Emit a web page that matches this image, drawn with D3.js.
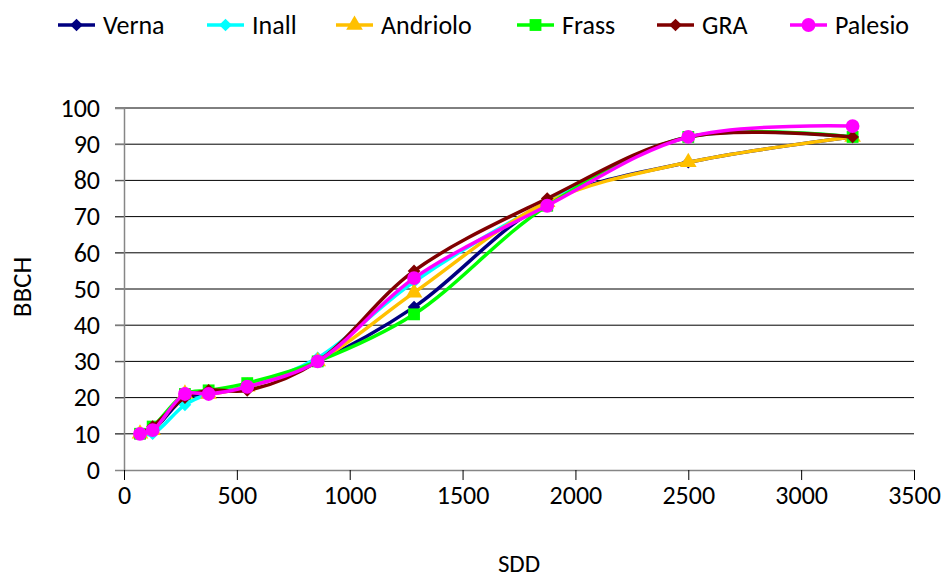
<!DOCTYPE html>
<html><head><meta charset="utf-8">
<script src="https://cdn.jsdelivr.net/npm/d3@7"></script>
<style>body{margin:0;background:#fff}svg{display:block}text{font-family:Carlito,Lato,"Open Sans",sans-serif}</style>
</head><body><svg id="c" width="947" height="580"></svg>
<script>
const sdd = [71, 127, 270, 375, 546, 858, 1285, 1875, 2500, 3228];
const verna    = [10, 11, 20, 21, 23, 30, 45, 74, 85, 92];
const inall    = [10, 10, 18, 21, 23, 31, 52, 74, 92, 92];
const andriolo = [10, 11, 21, 21, 23, 30, 49, 74, 85, 92];
const frass    = [10, 12, 21, 22, 24, 30, 43, 73, 92, 92];
const gra      = [10, 12, 20, 22, 22, 30, 55, 75, 92, 92];
const palesio  = [10, 11, 21, 21, 23, 30, 53, 73, 92, 95];
const seriesNames = ["Verna", "Inall", "Andriolo", "Frass", "GRA", "Palesio"];
const seriesValues = [verna, inall, andriolo, frass, gra, palesio];
const xTicks = [0, 500, 1000, 1500, 2000, 2500, 3000, 3500];
const yTicks = [0, 10, 20, 30, 40, 50, 60, 70, 80, 90, 100];

const colors = ["#000080", "#00FFFF", "#FFC000", "#00FF00", "#800000", "#FF00FF"];
const shapes = ["diamond", "diamond", "triangle", "square", "diamond", "circle"];

const svg = d3.select("#c");
const M = {l:124, r:33, t:108, b:110};
const W = 947 - M.l - M.r, H = 580 - M.t - M.b;
const x = d3.scaleLinear().domain([0, 3500]).range([M.l, M.l + W]);
const y = d3.scaleLinear().domain([0, 100]).range([M.t + H, M.t]);

// gridlines
svg.append("g").selectAll("line").data(yTicks.filter(d => d > 0)).join("line")
  .attr("x1", M.l - 9).attr("x2", M.l + W)
  .attr("y1", d => y(d)).attr("y2", d => y(d))
  .attr("stroke", "#000").attr("stroke-width", 1);

// y axis
const ya = svg.append("g").attr("transform", `translate(${M.l},0)`)
  .call(d3.axisLeft(y).tickValues(yTicks).tickSize(9).tickPadding(15));
ya.select(".domain").attr("stroke", "#868686").attr("stroke-width", 1.5);
ya.selectAll(".tick line").attr("stroke", "#868686");
ya.selectAll(".tick text").attr("font-size", 26).attr("fill", "#000");

// x axis
const xa = svg.append("g").attr("transform", `translate(0,${M.t + H})`)
  .call(d3.axisBottom(x).tickValues(xTicks).tickFormat(d3.format("d")).tickSize(10).tickSizeOuter(0).tickPadding(6));
xa.select(".domain").attr("stroke", "#868686").attr("stroke-width", 1.5);
xa.selectAll(".tick line").attr("stroke", "#000");
xa.selectAll(".tick text").attr("font-size", 26).attr("fill", "#000");

svg.append("text").attr("transform", `translate(31,${M.t + H/2 - 2}) rotate(-90)`)
  .attr("text-anchor", "middle").attr("font-size", 27).text("BBCH");
svg.append("text").attr("x", 519).attr("y", 572)
  .attr("text-anchor", "middle").attr("font-size", 25).text("SDD");

function marker(shape) {
  if (shape === "diamond") return d3.symbol(d3.symbolSquare, 80)();
  if (shape === "square") return d3.symbol(d3.symbolSquare, 140)();
  if (shape === "triangle") return d3.symbol(d3.symbolTriangle, 120)();
  return d3.symbol(d3.symbolCircle, 150)();
}
function markerTransform(shape) { return shape === "diamond" ? " rotate(45)" : ""; }

const line = d3.line().x(d => x(d[0])).y(d => y(d[1])).curve(d3.curveCatmullRom.alpha(0.5));

seriesValues.forEach((vals, i) => {
  const pts = sdd.map((s, j) => [s, vals[j]]);
  const g = svg.append("g");
  g.append("path").attr("d", line(pts)).attr("fill", "none")
    .attr("stroke", colors[i]).attr("stroke-width", 3.5);
  g.selectAll("path.m").data(pts).join("path").attr("class", "m")
    .attr("d", marker(shapes[i]))
    .attr("transform", d => `translate(${x(d[0])},${y(d[1])})` + markerTransform(shapes[i]))
    .attr("fill", colors[i]);
});

// legend
const legX = [58, 207, 336, 517, 657, 790];
const lg = svg.append("g");
seriesNames.forEach((n, i) => {
  const g = lg.append("g").attr("transform", `translate(${legX[i]},25)`);
  g.append("line").attr("x1", 0).attr("x2", 37).attr("stroke", colors[i]).attr("stroke-width", 3.5);
  g.append("path").attr("d", marker(shapes[i]))
    .attr("transform", "translate(18.5,0)" + markerTransform(shapes[i])).attr("fill", colors[i]);
  g.append("text").attr("x", 45).attr("y", 0).attr("dy", "0.35em").attr("font-size", 26).text(n);
});
</script></body></html>
